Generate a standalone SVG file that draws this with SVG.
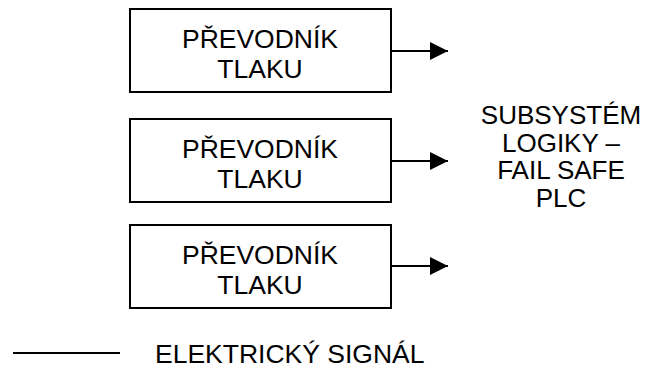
<svg xmlns="http://www.w3.org/2000/svg" width="645" height="370" viewBox="0 0 645 370">
  <style>
    .box { fill: #fff; stroke: #000; stroke-width: 2; }
    .wire { stroke: #000; stroke-width: 2; fill: none; }
    text { font-family: "Liberation Sans", Arial, sans-serif; fill: #000; }
    .lbl { font-size: 26.5px; text-anchor: middle; }
    .big { font-size: 26px; text-anchor: middle; }
    .leg { font-size: 26.5px; }
  </style>
  <defs>
    <marker id="arrow" viewBox="0 0 18 18" refX="18" refY="9" markerWidth="18" markerHeight="18" markerUnits="userSpaceOnUse" orient="auto">
      <path d="M0,0 L18,9 L0,18 Z" fill="#000"/>
    </marker>
  </defs>
  <rect width="645" height="370" fill="#fff"/>

  <g id="prevodnik-1">
    <rect class="box" x="130" y="9" width="261" height="83"/>
    <text class="lbl" x="260" y="48">PŘEVODNÍK</text>
    <text class="lbl" x="260" y="77.5">TLAKU</text>
  </g>
  <g id="prevodnik-2">
    <rect class="box" x="130" y="119" width="261" height="83"/>
    <text class="lbl" x="260" y="158">PŘEVODNÍK</text>
    <text class="lbl" x="260" y="187.5">TLAKU</text>
  </g>
  <g id="prevodnik-3">
    <rect class="box" x="130" y="225" width="261" height="83"/>
    <text class="lbl" x="260" y="264">PŘEVODNÍK</text>
    <text class="lbl" x="260" y="293.5">TLAKU</text>
  </g>

  <g id="subsystem-logiky">
    <text class="big" x="561" y="124">SUBSYSTÉM</text>
    <text class="big" x="561" y="151.5">LOGIKY –</text>
    <text class="big" x="561" y="179">FAIL SAFE</text>
    <text class="big" x="561" y="206.5">PLC</text>
  </g>

  <g id="connectors">
    <line class="wire" x1="391" y1="51" x2="448" y2="51" marker-end="url(#arrow)"/>
    <line class="wire" x1="391" y1="161" x2="448" y2="161" marker-end="url(#arrow)"/>
    <line class="wire" x1="391" y1="266" x2="448" y2="266" marker-end="url(#arrow)"/>
  </g>

  <g id="legend">
    <line class="wire" x1="13" y1="353" x2="120" y2="353"/>
    <text class="leg" x="155" y="363">ELEKTRICKÝ SIGNÁL</text>
  </g>
</svg>
